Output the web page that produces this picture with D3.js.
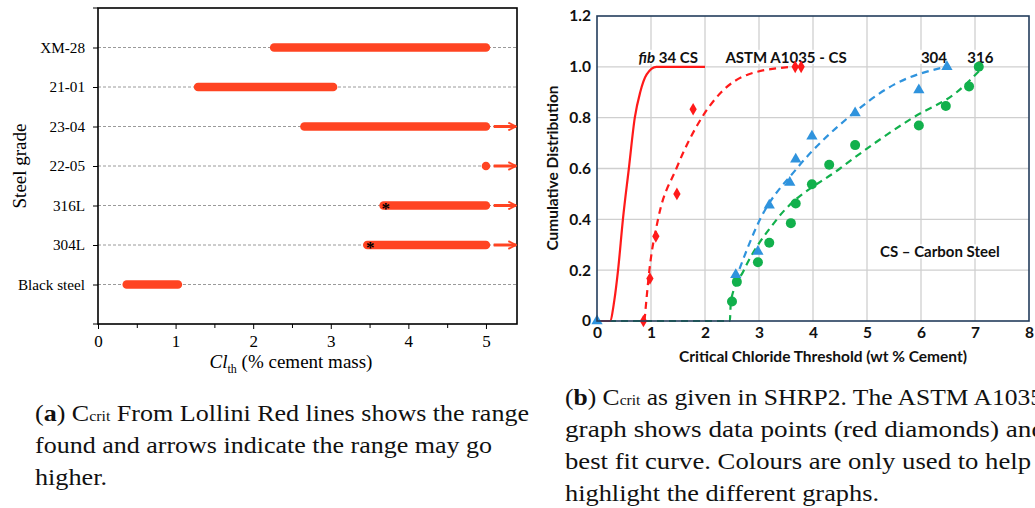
<!DOCTYPE html>
<html>
<head>
<meta charset="utf-8">
<script src="https://cdn.jsdelivr.net/npm/d3@7"></script>
<style>
body { margin: 0; background: #fff; }
svg { display: block; }
</style>
</head>
<body>
<svg id="chart" width="1035" height="508"></svg>
<script>
// ---- panel (a): Lollini ranges ----
const grades = ['XM-28', '21-01', '23-04', '22-05', '316L', '304L', 'Black steel'];
const rangeLow = [2.27, 1.29, 2.66, 5.0, 3.68, 3.47, 0.37];
const rangeHigh = [5.0, 3.03, 5.0, 5.0, 5.0, 5.0, 1.03];
const goesHigher = ['23-04', '22-05', '316L', '304L'];
const starGrades = ['316L', '304L'];
const starValues = [3.71, 3.51];
const clTicks = [0, 1, 2, 3, 4, 5];
const clMinorTicks = [0.5, 1.5, 2.5, 3.5, 4.5];

// ---- panel (b): SHRP2 cumulative distributions ----
const fibX = [0, 0.24, 0.32, 0.39, 0.48, 0.59, 0.70, 0.80, 0.92, 1.1, 2.0];
const fibY = [0, 0, 0.08, 0.2, 0.4, 0.6, 0.8, 0.9, 0.97, 1.0, 1.0];
const astmFitX = [0.88, 0.97, 1.13, 1.47, 1.94, 2.3, 2.8, 3.6];
const astmFitY = [0, 0.2, 0.4, 0.6, 0.8, 0.9, 0.97, 1.0];
const s304FitX = [2.56, 3.02, 3.7, 4.65, 5.5, 6.45];
const s304FitY = [0.16, 0.4, 0.6, 0.8, 0.93, 1.0];
const s316FitX = [0, 2.46, 2.48, 2.72, 3.33, 4.5, 5.85, 6.66, 7.13];
const s316FitY = [0, 0, 0.08, 0.2, 0.4, 0.6, 0.8, 0.9, 0.995];

const astmX = [0.86, 0.98, 1.09, 1.48, 1.78, 3.67, 3.78];
const astmY = [0, 0.167, 0.333, 0.5, 0.833, 1.0, 1.0];
const s304X = [0, 2.57, 2.98, 3.19, 3.57, 3.68, 3.98, 4.78, 5.96, 6.48];
const s304Y = [0, 0.182, 0.273, 0.455, 0.545, 0.636, 0.727, 0.818, 0.909, 1.0];
const s316X = [2.5, 2.59, 2.98, 3.19, 3.59, 3.68, 3.98, 4.3, 4.78, 5.96, 6.46, 6.89, 7.07];
const s316Y = [0.077, 0.154, 0.231, 0.308, 0.385, 0.462, 0.538, 0.615, 0.692, 0.769, 0.846, 0.923, 1.0];

const bXTicks = [0, 1, 2, 3, 4, 5, 6, 7, 8];
const bYTicks = [0, 0.2, 0.4, 0.6, 0.8, 1.0, 1.2];

const svg = d3.select('#chart');
const serif = '"Liberation Serif", "Times New Roman", serif';
const sans = 'Lato, "Open Sans", sans-serif';
const barRed = '#ff4422';

// ================= panel (a) =================
const xA = d3.scaleLinear().domain([0, 5.4]).range([98, 517]);
const yA = d3.scalePoint().domain(grades).range([8, 324]).padding(1);

const gA = svg.append('g');

// dashed guide lines
gA.append('g')
    .selectAll('line')
    .data(grades)
    .enter().append('line')
    .attr('x1', xA(0)).attr('x2', xA(5.4))
    .attr('y1', d => yA(d)).attr('y2', d => yA(d))
    .attr('stroke', '#9a9a9a')
    .attr('stroke-width', 1)
    .attr('stroke-dasharray', '3,2');

// frame
gA.append('rect')
    .attr('x', xA(0)).attr('y', 8)
    .attr('width', xA(5.4) - xA(0)).attr('height', 316)
    .attr('fill', 'none')
    .attr('stroke', '#000')
    .attr('stroke-width', 1.6);

// axes
const axA = gA.append('g')
    .attr('transform', 'translate(0,324)')
    .call(d3.axisBottom(xA).tickValues(clTicks).tickSize(5).tickPadding(6).tickFormat(d3.format('d')));
gA.append('g')
    .attr('transform', 'translate(0,324)')
    .call(d3.axisBottom(xA).tickValues(clMinorTicks).tickSize(4).tickFormat(''))
    .select('.domain').remove();
axA.select('.domain').remove();
axA.selectAll('text').attr('font-family', serif).attr('font-size', 17).attr('fill', '#000');

const ayA = gA.append('g')
    .attr('transform', 'translate(98,0)')
    .call(d3.axisLeft(yA).tickSize(5).tickPadding(8));
ayA.select('.domain').remove();
ayA.selectAll('text').attr('font-family', serif).attr('font-size', 15.2).attr('fill', '#000');
// end ticks at the frame corners
gA.append('g')
    .selectAll('line')
    .data(yA.range())
    .enter().append('line')
    .attr('x1', 93).attr('x2', 98)
    .attr('y1', d => d).attr('y2', d => d)
    .attr('stroke', '#000');

// range bars
gA.append('g')
    .selectAll('line')
    .data(grades)
    .enter().append('line')
    .attr('x1', (d, i) => xA(rangeLow[i]))
    .attr('x2', (d, i) => xA(rangeHigh[i]))
    .attr('y1', d => yA(d)).attr('y2', d => yA(d))
    .attr('stroke', barRed)
    .attr('stroke-width', 8.5)
    .attr('stroke-linecap', 'round');

// arrows for "may go higher"
svg.append('defs').append('marker')
    .attr('id', 'arrowA')
    .attr('viewBox', '0 0 10 10')
    .attr('refX', 9).attr('refY', 5)
    .attr('markerWidth', 3.2).attr('markerHeight', 3.2)
    .attr('orient', 'auto')
    .append('path')
    .attr('d', 'M1,1 L9,5 L1,9')
    .attr('fill', 'none')
    .attr('stroke', barRed)
    .attr('stroke-width', 2);

gA.append('g')
    .selectAll('line')
    .data(goesHigher)
    .enter().append('line')
    .attr('x1', xA(5.1)).attr('x2', xA(5.4) - 1)
    .attr('y1', d => yA(d)).attr('y2', d => yA(d))
    .attr('stroke', barRed)
    .attr('stroke-width', 3)
    .attr('marker-end', 'url(#arrowA)');

// stars
gA.append('g')
    .selectAll('text')
    .data(starGrades)
    .enter().append('text')
    .attr('x', (d, i) => xA(starValues[i]))
    .attr('y', d => yA(d) + 8)
    .attr('text-anchor', 'middle')
    .attr('font-family', serif)
    .attr('font-size', 17)
    .attr('font-weight', 'bold')
    .attr('fill', '#000')
    .text('*');

// axis titles
const tA = gA.append('text')
    .attr('x', 291).attr('y', 368)
    .attr('text-anchor', 'middle')
    .attr('font-family', serif)
    .attr('font-size', 19)
    .attr('fill', '#000');
tA.append('tspan').attr('font-style', 'italic').text('Cl');
tA.append('tspan').attr('font-size', 12).attr('dy', 5).text('th');
tA.append('tspan').attr('dy', -5).text(' (% cement mass)');

gA.append('text')
    .attr('transform', 'translate(26,166) rotate(-90)')
    .attr('text-anchor', 'middle')
    .attr('font-family', serif)
    .attr('font-size', 19)
    .attr('fill', '#000')
    .text('Steel grade');

// ================= panel (b) =================
const xB = d3.scaleLinear().domain([0, 8]).range([597, 1029]);
const yB = d3.scaleLinear().domain([0, 1.2]).range([321, 16]);
const gB = svg.append('g');
const blue = '#2f93dd';
const green = '#12b04c';

// grid
gB.append('g')
    .selectAll('line')
    .data(bXTicks.slice(1, -1))
    .enter().append('line')
    .attr('x1', d => xB(d)).attr('x2', d => xB(d))
    .attr('y1', yB(0)).attr('y2', yB(1.2))
    .attr('stroke', '#cfcfcf').attr('stroke-width', 1.3);
gB.append('g')
    .selectAll('line')
    .data(bYTicks.slice(1, -1))
    .enter().append('line')
    .attr('x1', xB(0)).attr('x2', xB(8))
    .attr('y1', d => yB(d)).attr('y2', d => yB(d))
    .attr('stroke', '#cfcfcf').attr('stroke-width', 1.3);

// labels with white backing
const bLabels = [
    { x: 1.32, y: 1.0, dy: -4, parts: [['fib', true], [' 34 CS', false]] },
    { x: 3.5, y: 1.0, dy: -4, parts: [['ASTM A1035 - CS', false]] },
    { x: 6.24, y: 1.0, dy: -4, parts: [['304', false]] },
    { x: 7.1, y: 1.0, dy: -4, parts: [['316', false]] },
    { x: 6.35, y: 0.27, dy: 5, parts: [['CS \u2013 Carbon Steel', false]] }
];
const labelG = gB.append('g');
bLabels.forEach(l => {
    const t = labelG.append('text')
        .attr('x', xB(l.x)).attr('y', yB(l.y) + l.dy)
        .attr('text-anchor', 'middle')
        .attr('font-family', sans)
        .attr('font-weight', 'bold')
        .attr('font-size', 15)
        .attr('fill', '#111');
    l.parts.forEach(p => t.append('tspan').attr('font-style', p[1] ? 'italic' : 'normal').text(p[0]));
    const bb = t.node().getBBox();
    labelG.insert('rect', () => t.node())
        .attr('x', bb.x - 2).attr('y', bb.y + 2)
        .attr('width', bb.width + 4).attr('height', bb.height - 4)
        .attr('fill', '#fff');
});

// curves
const line = d3.line().x(d => xB(d[0])).y(d => yB(d[1])).curve(d3.curveMonotoneX);
const fits = [
    { xs: s316FitX, ys: s316FitY, color: green, dash: '7,5' },
    { xs: s304FitX, ys: s304FitY, color: blue, dash: '7,5' },
    { xs: astmFitX, ys: astmFitY, color: '#ff1a1a', dash: '7,5' },
    { xs: fibX, ys: fibY, color: '#ff1a1a', dash: null }
];
gB.append('g')
    .selectAll('path')
    .data(fits)
    .enter().append('path')
    .attr('d', f => line(f.xs.map((x, i) => [x, f.ys[i]])))
    .attr('fill', 'none')
    .attr('stroke', f => f.color)
    .attr('stroke-width', 2.2)
    .attr('stroke-dasharray', f => f.dash);

// markers
gB.append('g')
    .selectAll('circle')
    .data(s316X.map((x, i) => [x, s316Y[i]]))
    .enter().append('circle')
    .attr('cx', d => xB(d[0])).attr('cy', d => yB(d[1]))
    .attr('r', 5)
    .attr('fill', green);
gB.append('g')
    .selectAll('path')
    .data(s304X.map((x, i) => [x, s304Y[i]]))
    .enter().append('path')
    .attr('transform', d => `translate(${xB(d[0])},${yB(d[1])})`)
    .attr('d', d3.symbol(d3.symbolTriangle, 55))
    .attr('fill', blue);
gB.append('g')
    .selectAll('path')
    .data(astmX.map((x, i) => [x, astmY[i]]))
    .enter().append('path')
    .attr('transform', d => `translate(${xB(d[0])},${yB(d[1])})`)
    .attr('d', d3.symbol(d3.symbolDiamond, 46))
    .attr('fill', '#ff1a1a');

// frame
gB.append('rect')
    .attr('x', xB(0)).attr('y', yB(1.2))
    .attr('width', xB(8) - xB(0)).attr('height', yB(0) - yB(1.2))
    .attr('fill', 'none')
    .attr('stroke', '#243d5c')
    .attr('stroke-width', 1.6);

// axes labels
const axB = gB.append('g')
    .attr('transform', `translate(0,${yB(0)})`)
    .call(d3.axisBottom(xB).tickValues(bXTicks).tickSize(0).tickPadding(6).tickFormat(d3.format('d')));
const ayB = gB.append('g')
    .attr('transform', `translate(${xB(0)},0)`)
    .call(d3.axisLeft(yB).tickValues(bYTicks).tickSize(0).tickPadding(6)
        .tickFormat(d => d === 0 ? '0' : d3.format('.1f')(d)));
[axB, ayB].forEach(a => {
    a.select('.domain').remove();
    a.selectAll('text')
        .attr('font-family', sans)
        .attr('font-weight', 'bold')
        .attr('font-size', 15.5)
        .attr('fill', '#111');
});

gB.append('text')
    .attr('x', 823).attr('y', 362)
    .attr('text-anchor', 'middle')
    .attr('font-family', sans)
    .attr('font-weight', 'bold')
    .attr('font-size', 15.5)
    .attr('fill', '#111')
    .text('Critical Chloride Threshold (wt % Cement)');
gB.append('text')
    .attr('transform', 'translate(558,168) rotate(-90)')
    .attr('text-anchor', 'middle')
    .attr('font-family', sans)
    .attr('font-weight', 'bold')
    .attr('font-size', 15.5)
    .attr('fill', '#111')
    .text('Cumulative Distribution');

// ================= captions =================
function caption(x, y, lines, widths) {
    lines.forEach((ln, i) => {
        const t = svg.append('text')
            .attr('x', x).attr('y', y + i * 32)
            .attr('font-family', serif)
            .attr('font-size', 23)
            .attr('fill', '#111');
        ln.forEach(p => {
            const s = t.append('tspan').text(p.t);
            if (p.b) s.attr('font-weight', 'bold');
            if (p.small) s.attr('font-size', 14);
        });
        if (widths[i]) t.attr('textLength', widths[i]).attr('lengthAdjust', 'spacingAndGlyphs');
    });
}
caption(35, 421, [
    [{ t: '(' }, { t: 'a', b: true }, { t: ') C' }, { t: 'crit', small: true }, { t: ' From Lollini Red lines shows the range' }],
    [{ t: 'found and arrows indicate the range may go' }],
    [{ t: 'higher.' }]
], [494, 457, 72]);
caption(565, 405, [
    [{ t: '(' }, { t: 'b', b: true }, { t: ') C' }, { t: 'crit' , small: true }, { t: ' as given in SHRP2. The ASTM A1035' }],
    [{ t: 'graph shows data points (red diamonds) and' }],
    [{ t: 'best fit curve. Colours are only used to help' }],
    [{ t: 'highlight the different graphs.' }]
], [478, 480, 466, 314]);
</script>
</body>
</html>
